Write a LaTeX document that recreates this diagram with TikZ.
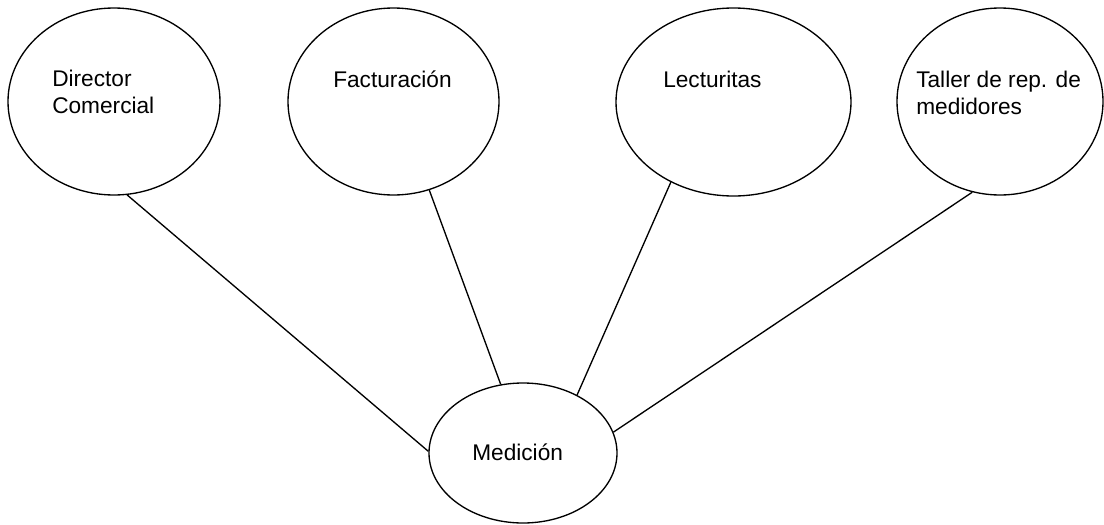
\documentclass[tikz,border=0pt]{standalone}
\usepackage{fontspec}
\setmainfont{Liberation Sans}
\usepackage{tikz}
\usetikzlibrary{shapes.geometric}
\tikzstyle{bubble}=[ellipse, draw=black, line width=1pt, inner sep=0pt]
\tikzstyle{txt} = [inner sep=0pt, align=left, anchor=base west, font=\fontsize{17pt}{19.8pt}\selectfont]
\tikzstyle{edge} = [draw, line width=1pt, -, black]

\begin{document}
\begin{tikzpicture}[x=0.75pt, y=-0.75pt]

	\useasboundingbox (0,0) rectangle (1104,525);

	\node[bubble, minimum width=159pt, minimum height=140.25pt] (dir) at (114,101.5) {};
	\node[bubble, minimum width=158.25pt, minimum height=140.25pt] (fact) at (393.5,101.5) {};
	\node[bubble, minimum width=176.25pt, minimum height=141pt] (lect) at (733.5,102) {};
	\node[bubble, minimum width=154.5pt, minimum height=140.25pt] (tall) at (1000,101.5) {};
	\node[bubble, minimum width=141pt, minimum height=105pt] (med) at (523,453) {};

	% labels sit up and to the left inside the bubbles (base = last line)
	\node[txt] (dir_t) at ([shift={(-62,11.5)}]dir.center) {Director\\Comercial};
	\node[txt] (fact_t) at ([shift={(-60.5,-14.5)}]fact.center) {Facturación};
	\node[txt] (lect_t) at ([shift={(-70.5,-15)}]lect.center) {Lecturitas};
	\node[txt] (tall_t) at ([shift={(-84,12.5)}]tall.center) {Taller de rep. de\\medidores};
	\node[txt] (med_t) at ([shift={(-51,7)}]med.center) {Medición};

	\foreach \source/\from/\to in {dir/-82.1/179.4, fact/-68.6/108.7, lect/232.1/47.3, tall/253.5/13.6}{
		\draw[edge] (\source.\from) -- (med.\to);
	}

\end{tikzpicture}
\end{document}
